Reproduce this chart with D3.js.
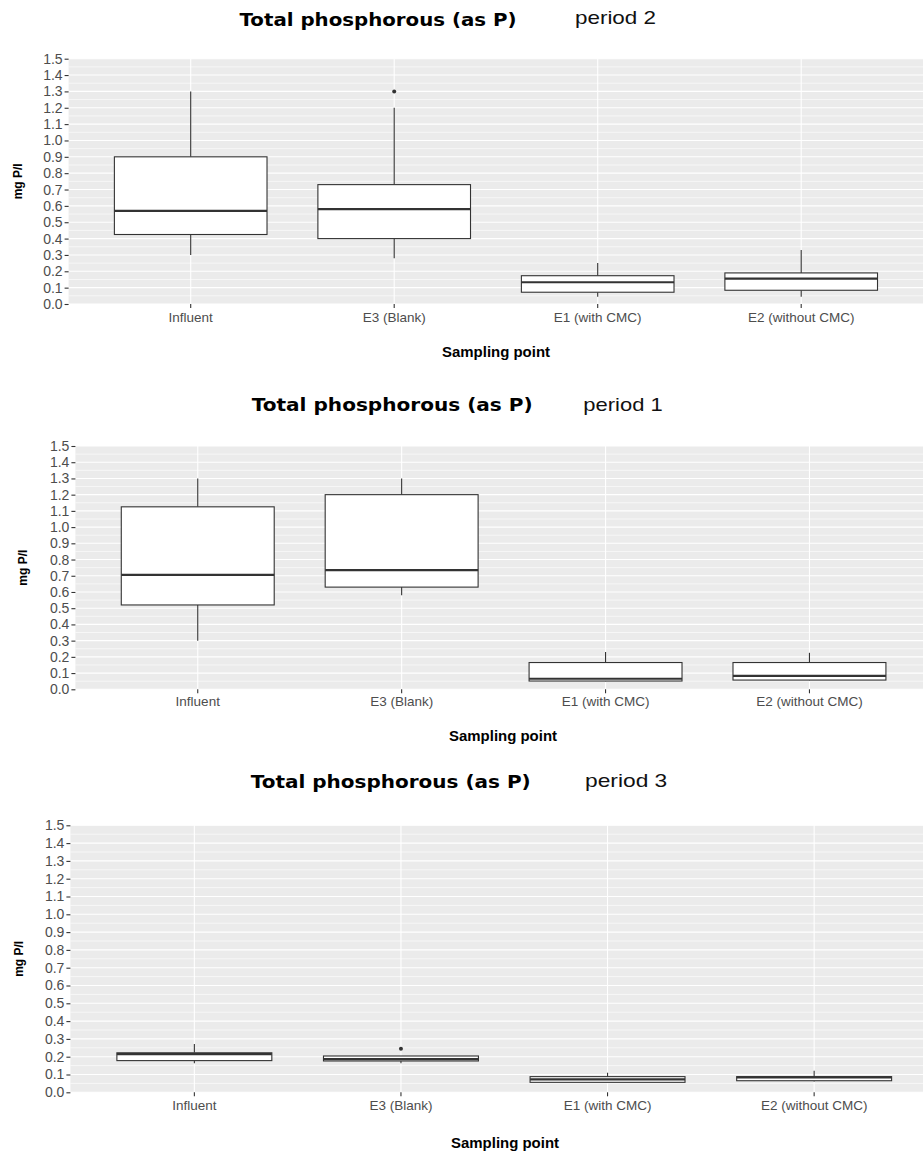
<!DOCTYPE html>
<html>
<head>
<meta charset="utf-8">
<script src="https://cdn.jsdelivr.net/npm/d3@7/dist/d3.min.js"></script>
<style>
  html, body { margin: 0; padding: 0; background: #fff; }
  svg { display: block; }
</style>
</head>
<body>
<svg id="chart" width="923" height="1158"></svg>
<script>
// ---------------- DATA ----------------
const categories = ["Influent", "E3 (Blank)", "E1 (with CMC)", "E2 (without CMC)"];
const yTickValues = [0.0, 0.1, 0.2, 0.3, 0.4, 0.5, 0.6, 0.7, 0.8, 0.9, 1.0, 1.1, 1.2, 1.3, 1.4, 1.5];
const yMinorValues = [0.05, 0.15, 0.25, 0.35, 0.45, 0.55, 0.65, 0.75, 0.85, 0.95, 1.05, 1.15, 1.25, 1.35, 1.45];
const titleText = "Total phosphorous (as P)";
const periodLabels = ["period 2", "period 1", "period 3"];
const xAxisTitle = "Sampling point";
const yAxisTitle = "mg P/l";

// period 2 (top panel)
const p2Lower  = [0.30, 0.28, 0.045, 0.045];
const p2Q1     = [0.425, 0.40, 0.072, 0.084];
const p2Median = [0.57, 0.58, 0.133, 0.155];
const p2Q3     = [0.90, 0.73, 0.173, 0.19];
const p2Upper  = [1.30, 1.20, 0.25, 0.33];
const p2Outliers = [[], [1.30], [], []];

// period 1 (middle panel)
const p1Lower  = [0.30, 0.58, 0.05, 0.055];
const p1Q1     = [0.52, 0.63, 0.051, 0.057];
const p1Median = [0.705, 0.735, 0.065, 0.083];
const p1Q3     = [1.125, 1.20, 0.165, 0.165];
const p1Upper  = [1.30, 1.30, 0.23, 0.225];
const p1Outliers = [[], [], [], []];

// period 3 (bottom panel)
const p3Lower  = [0.163, 0.163, 0.056, 0.06];
const p3Q1     = [0.178, 0.176, 0.056, 0.065];
const p3Median = [0.214, 0.186, 0.073, 0.084];
const p3Q3     = [0.222, 0.204, 0.088, 0.088];
const p3Upper  = [0.272, 0.204, 0.11, 0.121];
const p3Outliers = [[], [0.245], [], []];

// ---------------- LAYOUT ----------------
const panels = [
  { period: periodLabels[0], lower: p2Lower, q1: p2Q1, med: p2Median, q3: p2Q3, upper: p2Upper, out: p2Outliers,
    L: 68.6, R: 923.3, T: 58.7, B: 304,
    titleX: 239.5, titleY: 26.4, titleW: 277, periodX: 575, periodY: 23.8, periodW: 81,
    ylabX: 21.9, xlabY: 322, xtitleX: 496, xtitleY: 357 },
  { period: periodLabels[1], lower: p1Lower, q1: p1Q1, med: p1Median, q3: p1Q3, upper: p1Upper, out: p1Outliers,
    L: 75.4, R: 931.8, T: 446, B: 689.3,
    titleX: 251.7, titleY: 411, titleW: 281, periodX: 583.3, periodY: 410.6, periodW: 79.4,
    ylabX: 26.9, xlabY: 706.2, xtitleX: 503, xtitleY: 740.7 },
  { period: periodLabels[2], lower: p3Lower, q1: p3Q1, med: p3Median, q3: p3Q3, upper: p3Upper, out: p3Outliers,
    L: 70.4, R: 938.1, T: 825.3, B: 1092.3,
    titleX: 250.7, titleY: 788, titleW: 280, periodX: 585, periodY: 786.6, periodW: 82.3,
    ylabX: 22.6, xlabY: 1110.2, xtitleX: 505, xtitleY: 1147.5 }
];

const svg = d3.select("#chart");

panels.forEach((p, pi) => {
  const g = svg.append("g");
  const x = d3.scaleBand().domain(categories).range([p.L, p.R]).padding(0.2);
  const y = d3.scaleLinear().domain([0, 1.5]).range([p.B, p.T]);
  const step = x.step();
  const cx = c => x(c) + x.bandwidth() / 2;
  const boxW = step * 0.75;

  // panel background
  g.append("rect").attr("x", p.L).attr("y", p.T)
    .attr("width", p.R - p.L).attr("height", p.B - p.T).attr("fill", "#EBEBEB");

  // minor grid
  g.selectAll(".minor").data(yMinorValues).enter().append("line")
    .attr("x1", p.L).attr("x2", p.R)
    .attr("y1", d => y(d)).attr("y2", d => y(d))
    .attr("stroke", "#fff").attr("stroke-width", 0.6);
  // major grid
  g.selectAll(".major").data(yTickValues).enter().append("line")
    .attr("x1", p.L).attr("x2", p.R)
    .attr("y1", d => y(d)).attr("y2", d => y(d))
    .attr("stroke", "#fff").attr("stroke-width", 1.1);
  g.selectAll(".vmajor").data(categories).enter().append("line")
    .attr("x1", d => cx(d)).attr("x2", d => cx(d))
    .attr("y1", p.T).attr("y2", p.B)
    .attr("stroke", "#fff").attr("stroke-width", 1.1);

  // boxes
  categories.forEach((c, i) => {
    const xc = cx(c);
    // whiskers
    g.append("line").attr("x1", xc).attr("x2", xc)
      .attr("y1", y(p.q3[i])).attr("y2", y(p.upper[i]))
      .attr("stroke", "#333").attr("stroke-width", 1.1);
    g.append("line").attr("x1", xc).attr("x2", xc)
      .attr("y1", y(p.q1[i])).attr("y2", y(p.lower[i]))
      .attr("stroke", "#333").attr("stroke-width", 1.1);
    // box
    g.append("rect").attr("x", xc - boxW / 2).attr("y", y(p.q3[i]))
      .attr("width", boxW).attr("height", Math.max(0.5, y(p.q1[i]) - y(p.q3[i])))
      .attr("fill", "#fff").attr("stroke", "#333").attr("stroke-width", 1.1);
    // median
    g.append("line").attr("x1", xc - boxW / 2).attr("x2", xc + boxW / 2)
      .attr("y1", y(p.med[i])).attr("y2", y(p.med[i]))
      .attr("stroke", "#333").attr("stroke-width", 2.2);
    // outliers
    p.out[i].forEach(v => {
      g.append("circle").attr("cx", xc).attr("cy", y(v)).attr("r", 2)
        .attr("fill", "#333");
    });
  });

  // y axis
  const yAxis = d3.axisLeft(y).tickValues(yTickValues).tickFormat(d3.format(".1f"))
    .tickSize(4).tickPadding(2);
  const ya = g.append("g").attr("transform", `translate(${p.L},0)`).call(yAxis);
  ya.select(".domain").remove();
  ya.selectAll(".tick line").attr("stroke", "#333").attr("stroke-width", 1.1);
  ya.selectAll(".tick text").attr("fill", "#4D4D4D")
    .style("font-family", "'Liberation Sans', Arial, sans-serif").style("font-size", "14px");

  // x axis
  const xAxis = d3.axisBottom(x).tickSize(4).tickPadding(0);
  const xa = g.append("g").attr("transform", `translate(0,${p.B})`).call(xAxis);
  xa.select(".domain").remove();
  xa.selectAll(".tick line").attr("stroke", "#333").attr("stroke-width", 1.1);
  xa.selectAll(".tick text").attr("fill", "#4D4D4D")
    .attr("y", p.xlabY - p.B).attr("dy", null)
    .style("font-family", "'Liberation Sans', Arial, sans-serif").style("font-size", "13.5px");

  // titles
  g.append("text").attr("x", p.titleX).attr("y", p.titleY)
    .attr("textLength", p.titleW).attr("lengthAdjust", "spacingAndGlyphs")
    .style("font-family", "'DejaVu Sans', Verdana, sans-serif").style("font-weight", "bold")
    .style("font-size", "18px").attr("fill", "#000").text(titleText);
  g.append("text").attr("x", p.periodX).attr("y", p.periodY)
    .attr("textLength", p.periodW).attr("lengthAdjust", "spacingAndGlyphs")
    .style("font-family", "'Liberation Sans', Arial, sans-serif")
    .style("font-size", "19px").attr("fill", "#111").text(p.period);

  // axis titles
  g.append("text").attr("transform", `translate(${p.ylabX},${(p.T + p.B) / 2}) rotate(-90)`)
    .attr("text-anchor", "middle")
    .style("font-family", "'Liberation Sans', Arial, sans-serif").style("font-weight", "bold")
    .style("font-size", "12px").attr("fill", "#000").text(yAxisTitle);
  g.append("text").attr("x", p.xtitleX).attr("y", p.xtitleY)
    .attr("text-anchor", "middle").attr("textLength", 108).attr("lengthAdjust", "spacingAndGlyphs")
    .style("font-family", "'Liberation Sans', Arial, sans-serif").style("font-weight", "bold")
    .style("font-size", "14.5px").attr("fill", "#000").text(xAxisTitle);
});
</script>
</body>
</html>
